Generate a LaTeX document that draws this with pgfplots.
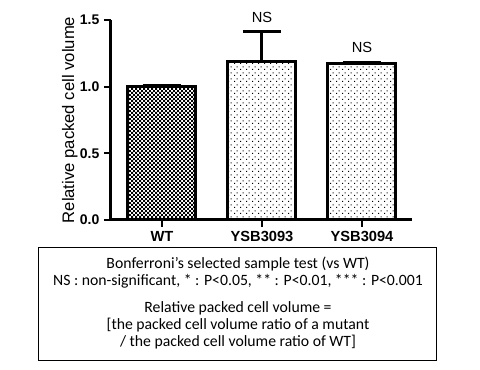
\documentclass[border=0pt]{standalone}
\usepackage{pgfplots}
\pgfplotsset{compat=1.18}
\usepackage{fontspec}
\setmainfont{Liberation Sans}
\newfontfamily\calibri{Carlito}
\usetikzlibrary{patterns}
\pgfdeclarepatternformonly{mychecker}{\pgfpointorigin}{\pgfqpoint{3pt}{3pt}}{\pgfqpoint{3pt}{3pt}}{%
  \pgfpathrectangle{\pgfpointorigin}{\pgfqpoint{1.5pt}{1.5pt}}%
  \pgfpathrectangle{\pgfqpoint{1.5pt}{1.5pt}}{\pgfqpoint{1.5pt}{1.5pt}}%
  \pgfusepath{fill}}
\pgfdeclarepatternformonly{mydots}{\pgfpointorigin}{\pgfqpoint{4.5pt}{4.5pt}}{\pgfqpoint{4.5pt}{4.5pt}}{%
  \pgfpathrectangle{\pgfpointorigin}{\pgfqpoint{0.9pt}{0.9pt}}%
  \pgfpathrectangle{\pgfqpoint{2.25pt}{2.25pt}}{\pgfqpoint{0.9pt}{0.9pt}}%
  \pgfusepath{fill}}
\begin{document}
\begin{tikzpicture}[x=0.75pt,y=0.75pt]
\path[use as bounding box] (0,0) rectangle (480,370);
\begin{axis}[
  at={(83.25pt,112.5pt)}, anchor=south west,
  scale only axis, width=225.75pt, height=150pt,
  xmin=-0.51, xmax=2.5, ymin=0, ymax=1.5,
  axis x line=bottom, axis y line=left,
  axis line style={-, line width=2.25pt},
  xtick={0,1,2}, xticklabels={WT,YSB3093,YSB3094},
  ytick={0,0.5,1,1.5},
  yticklabel style={font=\bfseries\fontsize{10.5}{12}\selectfont, /pgf/number format/.cd, fixed, fixed zerofill, precision=1, assume math mode=true},
  tick align=outside,
  major tick length=5.25pt,
  every tick/.style={black, line width=1.5pt},
  xticklabel style={font=\bfseries\fontsize{11}{13}\selectfont},
  ylabel={Relative packed cell volume},
  every axis y label/.style={at={(axis description cs:-0.1229,0.5)}, rotate=90, anchor=base, font=\fontsize{12.5}{15}\selectfont},
  clip=false,
  ybar, bar width=51pt,
]
\addplot[bar shift=0pt, draw=black, line width=2.25pt, pattern=mychecker,
  error bars/.cd, y dir=plus, y explicit,
  error bar style={line width=2.25pt},
  error mark options={rotate=90, mark size=14.25pt, line width=2.25pt}]
  coordinates {(0,1.0) +- (0,0.005)};
\addplot[bar shift=0pt, draw=black, line width=2.25pt, pattern=mydots,
  error bars/.cd, y dir=plus, y explicit,
  error bar style={line width=2.25pt},
  error mark options={rotate=90, mark size=14.25pt, line width=2.25pt}]
  coordinates {(1,1.187) +- (0,0.223) (2,1.17) +- (0,0.012)};
\node[font=\fontsize{11}{13}\selectfont] at (axis cs:1,1.5225) {NS};
\node[font=\fontsize{11}{13}\selectfont] at (axis cs:2,1.2975) {NS};
\end{axis}
\draw[line width=0.75pt] (39,370-248) rectangle (437,370-361);
\begin{scope}[every node/.style={font=\calibri\fontsize{11.8}{14}\selectfont, anchor=base, inner sep=0pt}]
\node at (238,370-268.3) {Bonferroni’s selected sample test (vs WT)};
\node at (238,370-285.7) {NS : non-significant, * : P<0.05, ** : P<0.01, *** : P<0.001};
\node at (238,370-313) {Relative packed cell volume =};
\node at (238,370-330) {[the packed cell volume ratio of a mutant};
\node at (238,370-347) {/ the packed cell volume ratio of WT]};
\end{scope}
\end{tikzpicture}
\end{document}
